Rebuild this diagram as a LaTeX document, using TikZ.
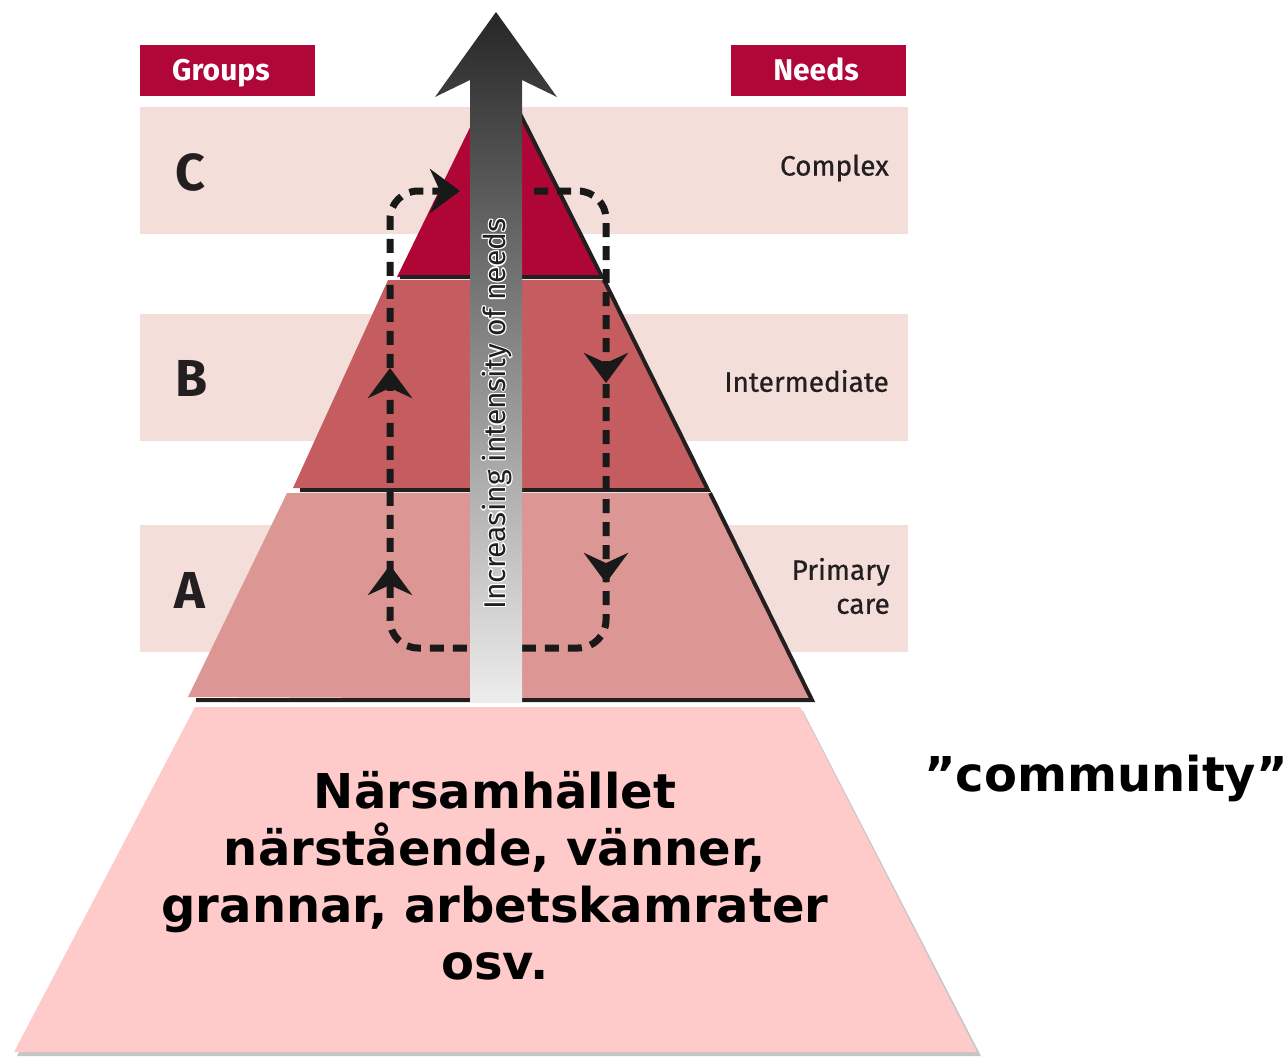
\documentclass[tikz,border=0pt]{standalone}
\usepackage{fontspec}
\setmainfont{Fira Sans}
\newfontfamily\verd{DejaVu Sans}
\usetikzlibrary{arrows.meta,decorations.markings,shadings}

\definecolor{crimson}{RGB}{176,6,56}
\definecolor{bandpink}{RGB}{243,222,218}
\definecolor{layerC}{RGB}{176,6,54}
\definecolor{layerB}{RGB}{197,92,95}
\definecolor{layerA}{RGB}{220,150,148}
\definecolor{commpink}{RGB}{254,202,202}
\definecolor{ink}{RGB}{35,31,32}

\tikzset{
  band/.style={fill=bandpink, draw=none},
  headbox/.style={fill=crimson, draw=none},
  headtext/.style={text=white, font=\bfseries\fontsize{30}{34}\selectfont, inner sep=0pt, anchor=base},
  grouptext/.style={text=ink, font=\bfseries\fontsize{52}{56}\selectfont, inner sep=0pt},
  needtext/.style={text=ink, font=\fontsize{28}{34}\selectfont\addfontfeature{FakeBold=0.6}, inner sep=0pt, anchor=east, align=right},
  edge/.style={draw=ink, line width=4pt},
  loopline/.style={black!90, line width=7pt, dash pattern=on 14pt off 9pt},
  looptip/.style={-{Stealth[length=30pt,width=44pt,inset=10pt]}},
}

\begin{document}
\begin{tikzpicture}[x=1pt,y=-1pt]
  \useasboundingbox (0,0) rectangle (1287,1058);

  % Bands
  \fill[band] (140,107) rectangle (908,234);
  \fill[band] (140,314) rectangle (908,441);
  \fill[band] (140,525) rectangle (908,652);
  \fill[headbox] (140,45) rectangle (315,96);
  \fill[headbox] (731,45) rectangle (906,96);

  % Labels
  \node[headtext] (groups) at (221,80) {Groups};
  \node[headtext] (needs) at (816,80) {Needs};
  \node[grouptext] (grpC) at (190,172) {C};
  \node[grouptext] (grpB) at (192,378) {B};
  \node[grouptext] (grpA) at (190,590) {A};
  \node[needtext] (complex) at (889,168) {Complex};
  \node[needtext] (inter) at (889,381) {Intermediate};
  \node[needtext] (primary) at (890,586) {Primary\\care};

  % Community
  \fill[gray!45] (198,711) -- (803,711) -- (981,1056) -- (17,1056) -- cycle;
  \fill[commpink] (195,707) -- (800,707) -- (977,1052) -- (14,1052) -- cycle;
  \node[font=\verd\bfseries\fontsize{48}{57}\selectfont, align=center, inner sep=0pt]
    (comm) at (495,876) {Närsamhället\\närstående, vänner,\\grannar, arbetskamrater\\osv.};
  \node[font=\verd\bfseries\fontsize{48}{50}\selectfont, inner sep=0pt]
    (commeng) at (1106,778) {”community”};

  % Pyramid
  \fill[layerA] (287,493) -- (710,493) -- (812,700) -- (188,697) -- cycle;
  \draw[edge] (710,493) -- (812,700) -- (196,700);
  \fill[layerB] (388,280) -- (604,280) -- (708,490) -- (293,488) -- cycle;
  \draw[edge] (604,280) -- (708,490) -- (300,490);
  \fill[layerC] (498,70) -- (600,277) -- (397,277) -- cycle;
  \draw[edge] (498,70) -- (602,277) -- (400,277);

  % Loop
  \draw[loopline, rounded corners=28pt, looptip,
    postaction={decorate, decoration={markings,
      mark=at position 252pt with {\arrow[solid]{Stealth[length=30pt,width=44pt,inset=10pt]}},
      mark=at position 452pt with {\arrow[solid]{Stealth[length=30pt,width=44pt,inset=10pt]}},
      mark=at position 792pt with {\arrow[solid]{Stealth[length=30pt,width=44pt,inset=10pt]}},
      mark=at position 989pt with {\arrow[solid]{Stealth[length=30pt,width=44pt,inset=10pt]}}}}]
    (534,191) -- (606,191) -- (606,648) -- (390,648) -- (390,191) -- (460,191);

  % Arrow
  \shade[top color=black!85, bottom color=black!7]
    (496,12) -- (557,97) -- (522,80) -- (522,703) -- (470,703) -- (470,80) -- (435,97) -- cycle;
  \foreach \dx/\dy in {1.3/0,-1.3/0,0/1.3,0/-1.3,0.9/0.9,-0.9/0.9,0.9/-0.9,-0.9/-0.9}
    \node[rotate=90, text=white, font=\fontsize{30}{32}\selectfont, inner sep=0pt]
      at (497+\dx,414+\dy) {Increasing intensity of needs};
  \node[rotate=90, text=ink, font=\fontsize{30}{32}\selectfont, inner sep=0pt]
    (intens) at (497,414) {Increasing intensity of needs};
\end{tikzpicture}
\end{document}
